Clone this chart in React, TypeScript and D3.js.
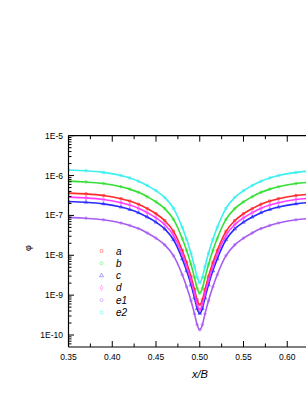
import React from 'react';
import * as d3 from 'd3';

// x/B positions of the samples
const xValues = [
  0.35, 0.37, 0.39, 0.41, 0.42, 0.43, 0.44, 0.45, 0.46, 0.47, 0.48, 0.485, 0.49, 0.494, 0.497, 0.5,
  0.503, 0.506, 0.51, 0.515, 0.52, 0.53, 0.54, 0.55, 0.56, 0.57, 0.58, 0.59, 0.61, 0.63, 0.65,
];

const seriesA = [
  3.63e-7, 3.47e-7, 3.16e-7, 2.63e-7, 2.29e-7, 1.91e-7, 1.48e-7, 1.1e-7, 7.41e-8, 3.98e-8, 1.32e-8, 6.61e-9, 2.95e-9, 1.38e-9, 7.59e-10, 5.75e-10,
  7.59e-10, 1.38e-9, 2.95e-9, 6.61e-9, 1.32e-8, 3.98e-8, 7.41e-8, 1.1e-7, 1.48e-7, 1.91e-7, 2.29e-7, 2.63e-7, 3.16e-7, 3.47e-7, 3.63e-7,
];
const seriesB = [
  7.24e-7, 6.92e-7, 6.31e-7, 5.25e-7, 4.57e-7, 3.8e-7, 2.95e-7, 2.19e-7, 1.48e-7, 7.94e-8, 2.63e-8, 1.32e-8, 5.89e-9, 2.75e-9, 1.48e-9, 1.12e-9,
  1.48e-9, 2.75e-9, 5.89e-9, 1.32e-8, 2.63e-8, 7.94e-8, 1.48e-7, 2.19e-7, 2.95e-7, 3.8e-7, 4.57e-7, 5.25e-7, 6.31e-7, 6.92e-7, 7.24e-7,
];
const seriesC = [
  2.24e-7, 2.14e-7, 1.95e-7, 1.62e-7, 1.41e-7, 1.17e-7, 9.12e-8, 6.76e-8, 4.57e-8, 2.45e-8, 8.13e-9, 4.07e-9, 1.82e-9, 8.51e-10, 4.57e-10, 3.47e-10,
  4.57e-10, 8.51e-10, 1.82e-9, 4.07e-9, 8.13e-9, 2.45e-8, 4.57e-8, 6.76e-8, 9.12e-8, 1.17e-7, 1.41e-7, 1.62e-7, 1.95e-7, 2.14e-7, 2.24e-7,
];
const seriesD = [
  2.88e-7, 2.75e-7, 2.51e-7, 2.09e-7, 1.82e-7, 1.51e-7, 1.17e-7, 8.71e-8, 5.89e-8, 3.16e-8, 1.05e-8, 5.25e-9, 2.34e-9, 1.09e-9, 5.89e-10, 4.27e-10,
  5.89e-10, 1.09e-9, 2.34e-9, 5.25e-9, 1.05e-8, 3.16e-8, 5.89e-8, 8.71e-8, 1.17e-7, 1.51e-7, 1.82e-7, 2.09e-7, 2.51e-7, 2.75e-7, 2.88e-7,
];
const seriesE1 = [
  8.91e-8, 8.51e-8, 7.76e-8, 6.46e-8, 5.62e-8, 4.68e-8, 3.63e-8, 2.69e-8, 1.82e-8, 9.77e-9, 3.24e-9, 1.62e-9, 7.24e-10, 3.39e-10, 1.82e-10, 1.35e-10,
  1.82e-10, 3.39e-10, 7.24e-10, 1.62e-9, 3.24e-9, 9.77e-9, 1.82e-8, 2.69e-8, 3.63e-8, 4.68e-8, 5.62e-8, 6.46e-8, 7.76e-8, 8.51e-8, 8.91e-8,
];
const seriesE2 = [
  1.38e-6, 1.32e-6, 1.2e-6, 1.0e-6, 8.71e-7, 7.24e-7, 5.62e-7, 4.17e-7, 2.82e-7, 1.51e-7, 5.01e-8, 2.51e-8, 1.12e-8, 5.25e-9, 2.82e-9, 2.04e-9,
  2.82e-9, 5.25e-9, 1.12e-8, 2.51e-8, 5.01e-8, 1.51e-7, 2.82e-7, 4.17e-7, 5.62e-7, 7.24e-7, 8.71e-7, 1.0e-6, 1.2e-6, 1.32e-6, 1.38e-6,
];

const seriesNames = ['a', 'b', 'c', 'd', 'e1', 'e2'];
const seriesValues = [seriesA, seriesB, seriesC, seriesD, seriesE1, seriesE2];
const seriesColors = ['#ff2a2a', '#33e033', '#2a2aff', '#ff3cff', '#a85cf2', '#3cf0f0'];
const seriesSymbols = [d3.symbolSquare, d3.symbolCircle, d3.symbolTriangle, d3.symbolDiamond, d3.symbolCircle, d3.symbolSquare];

const xTicks = [0.35, 0.4, 0.45, 0.5, 0.55, 0.6, 0.65];
const xTickLabels = ['0.35', '0.40', '0.45', '0.50', '0.55', '0.60'];
const xMinorTicks = [0.375, 0.425, 0.475, 0.525, 0.575, 0.625];
const yTicks = [1e-10, 1e-9, 1e-8, 1e-7, 1e-6, 1e-5];
const yTickLabels = ['1E-10', '1E-9', '1E-8', '1E-7', '1E-6', '1E-5'];

const W = 306;
const H = 396;
const left = 68.5;
const top = 135.7;
const bottom = 347;
const right = 331;

const font = '"Liberation Sans", Arial, sans-serif';

export default function App() {
  const x = d3.scaleLinear().domain([0.35, 0.65]).range([left, right]);
  const y = d3.scaleLog().domain([5e-11, 1e-5]).range([bottom, top]);

  const line = d3.line<number>()
    .x((_, i) => x(xValues[i]))
    .y(d => y(d))
    .curve(d3.curveMonotoneX);

  // minor log ticks 2..9 per decade
  const yMinor: number[] = [];
  for (let k = -11; k <= -6; k++) {
    for (let m = 2; m <= 9; m++) {
      const v = m * Math.pow(10, k);
      if (v > 5e-11 && v < 1e-5) yMinor.push(v);
    }
  }

  return (
    <svg width={W} height={H} style={{ position: 'absolute', left: 0, top: 0, background: '#fff' }}>
      <defs>
        <clipPath id="plot">
          <rect x={left} y={top} width={right - left} height={bottom - top} />
        </clipPath>
      </defs>

      <g clipPath="url(#plot)">
        {seriesValues.map((vals, si) => (
          <g key={seriesNames[si]}>
            <path d={line(vals) || ''} fill="none" stroke={seriesColors[si]} strokeWidth={1.6} />
            {vals.map((v, i) => (
              <path
                key={i}
                d={d3.symbol().type(seriesSymbols[si]).size(5)() || ''}
                transform={`translate(${x(xValues[i])},${y(v)})`}
                fill="none"
                stroke={seriesColors[si]}
                strokeWidth={0.6}
              />
            ))}
          </g>
        ))}
      </g>

      {/* axes frame */}
      <g stroke="#000" strokeWidth={1.2} fill="none">
        <line x1={left} y1={top} x2={left} y2={bottom} />
        <line x1={left} y1={top} x2={W} y2={top} />
        <line x1={left} y1={bottom} x2={W} y2={bottom} />
      </g>

      {/* ticks point inward */}
      <g stroke="#000" strokeWidth={1}>
        {xTicks.map(t => (
          <g key={t}>
            <line x1={x(t)} x2={x(t)} y1={bottom} y2={bottom - 6} />
            <line x1={x(t)} x2={x(t)} y1={top} y2={top + 6} />
          </g>
        ))}
        {xMinorTicks.map(t => (
          <g key={t}>
            <line x1={x(t)} x2={x(t)} y1={bottom} y2={bottom - 3.5} />
            <line x1={x(t)} x2={x(t)} y1={top} y2={top + 3.5} />
          </g>
        ))}
        {yTicks.map(t => (
          <line key={t} x1={left} x2={left + 5.5} y1={y(t)} y2={y(t)} />
        ))}
        {yMinor.map(t => (
          <line key={t} x1={left} x2={left + 3} y1={y(t)} y2={y(t)} />
        ))}
      </g>

      <g fontFamily={font} fontSize={8.5} fill="#000">
        {xTickLabels.map((lbl, i) => (
          <text key={lbl} x={x(xTicks[i])} y={360} textAnchor="middle">{lbl}</text>
        ))}
        {yTicks.map((t, i) => (
          <text key={t} x={63} y={y(t) + 3} textAnchor="end">{yTickLabels[i]}</text>
        ))}
      </g>

      <text x={200} y={378} textAnchor="middle" fontFamily={font} fontSize={11} fontStyle="italic">x/B</text>
      <text transform="translate(31,248) rotate(-90)" textAnchor="middle" fontFamily={font} fontSize={9}>φ</text>

      {/* legend */}
      <g fontFamily={font} fontSize={10} fontStyle="italic">
        {seriesNames.map((n, i) => (
          <g key={n} transform={`translate(0,${251 + i * 12.3})`}>
            <path
              d={d3.symbol().type(seriesSymbols[i]).size(7)() || ''}
              transform="translate(101.5,0)"
              fill="none"
              stroke={seriesColors[i]}
              strokeWidth={0.7}
              opacity={0.6}
            />
            <text x={116} y={3.5}>{n}</text>
          </g>
        ))}
      </g>
    </svg>
  );
}
